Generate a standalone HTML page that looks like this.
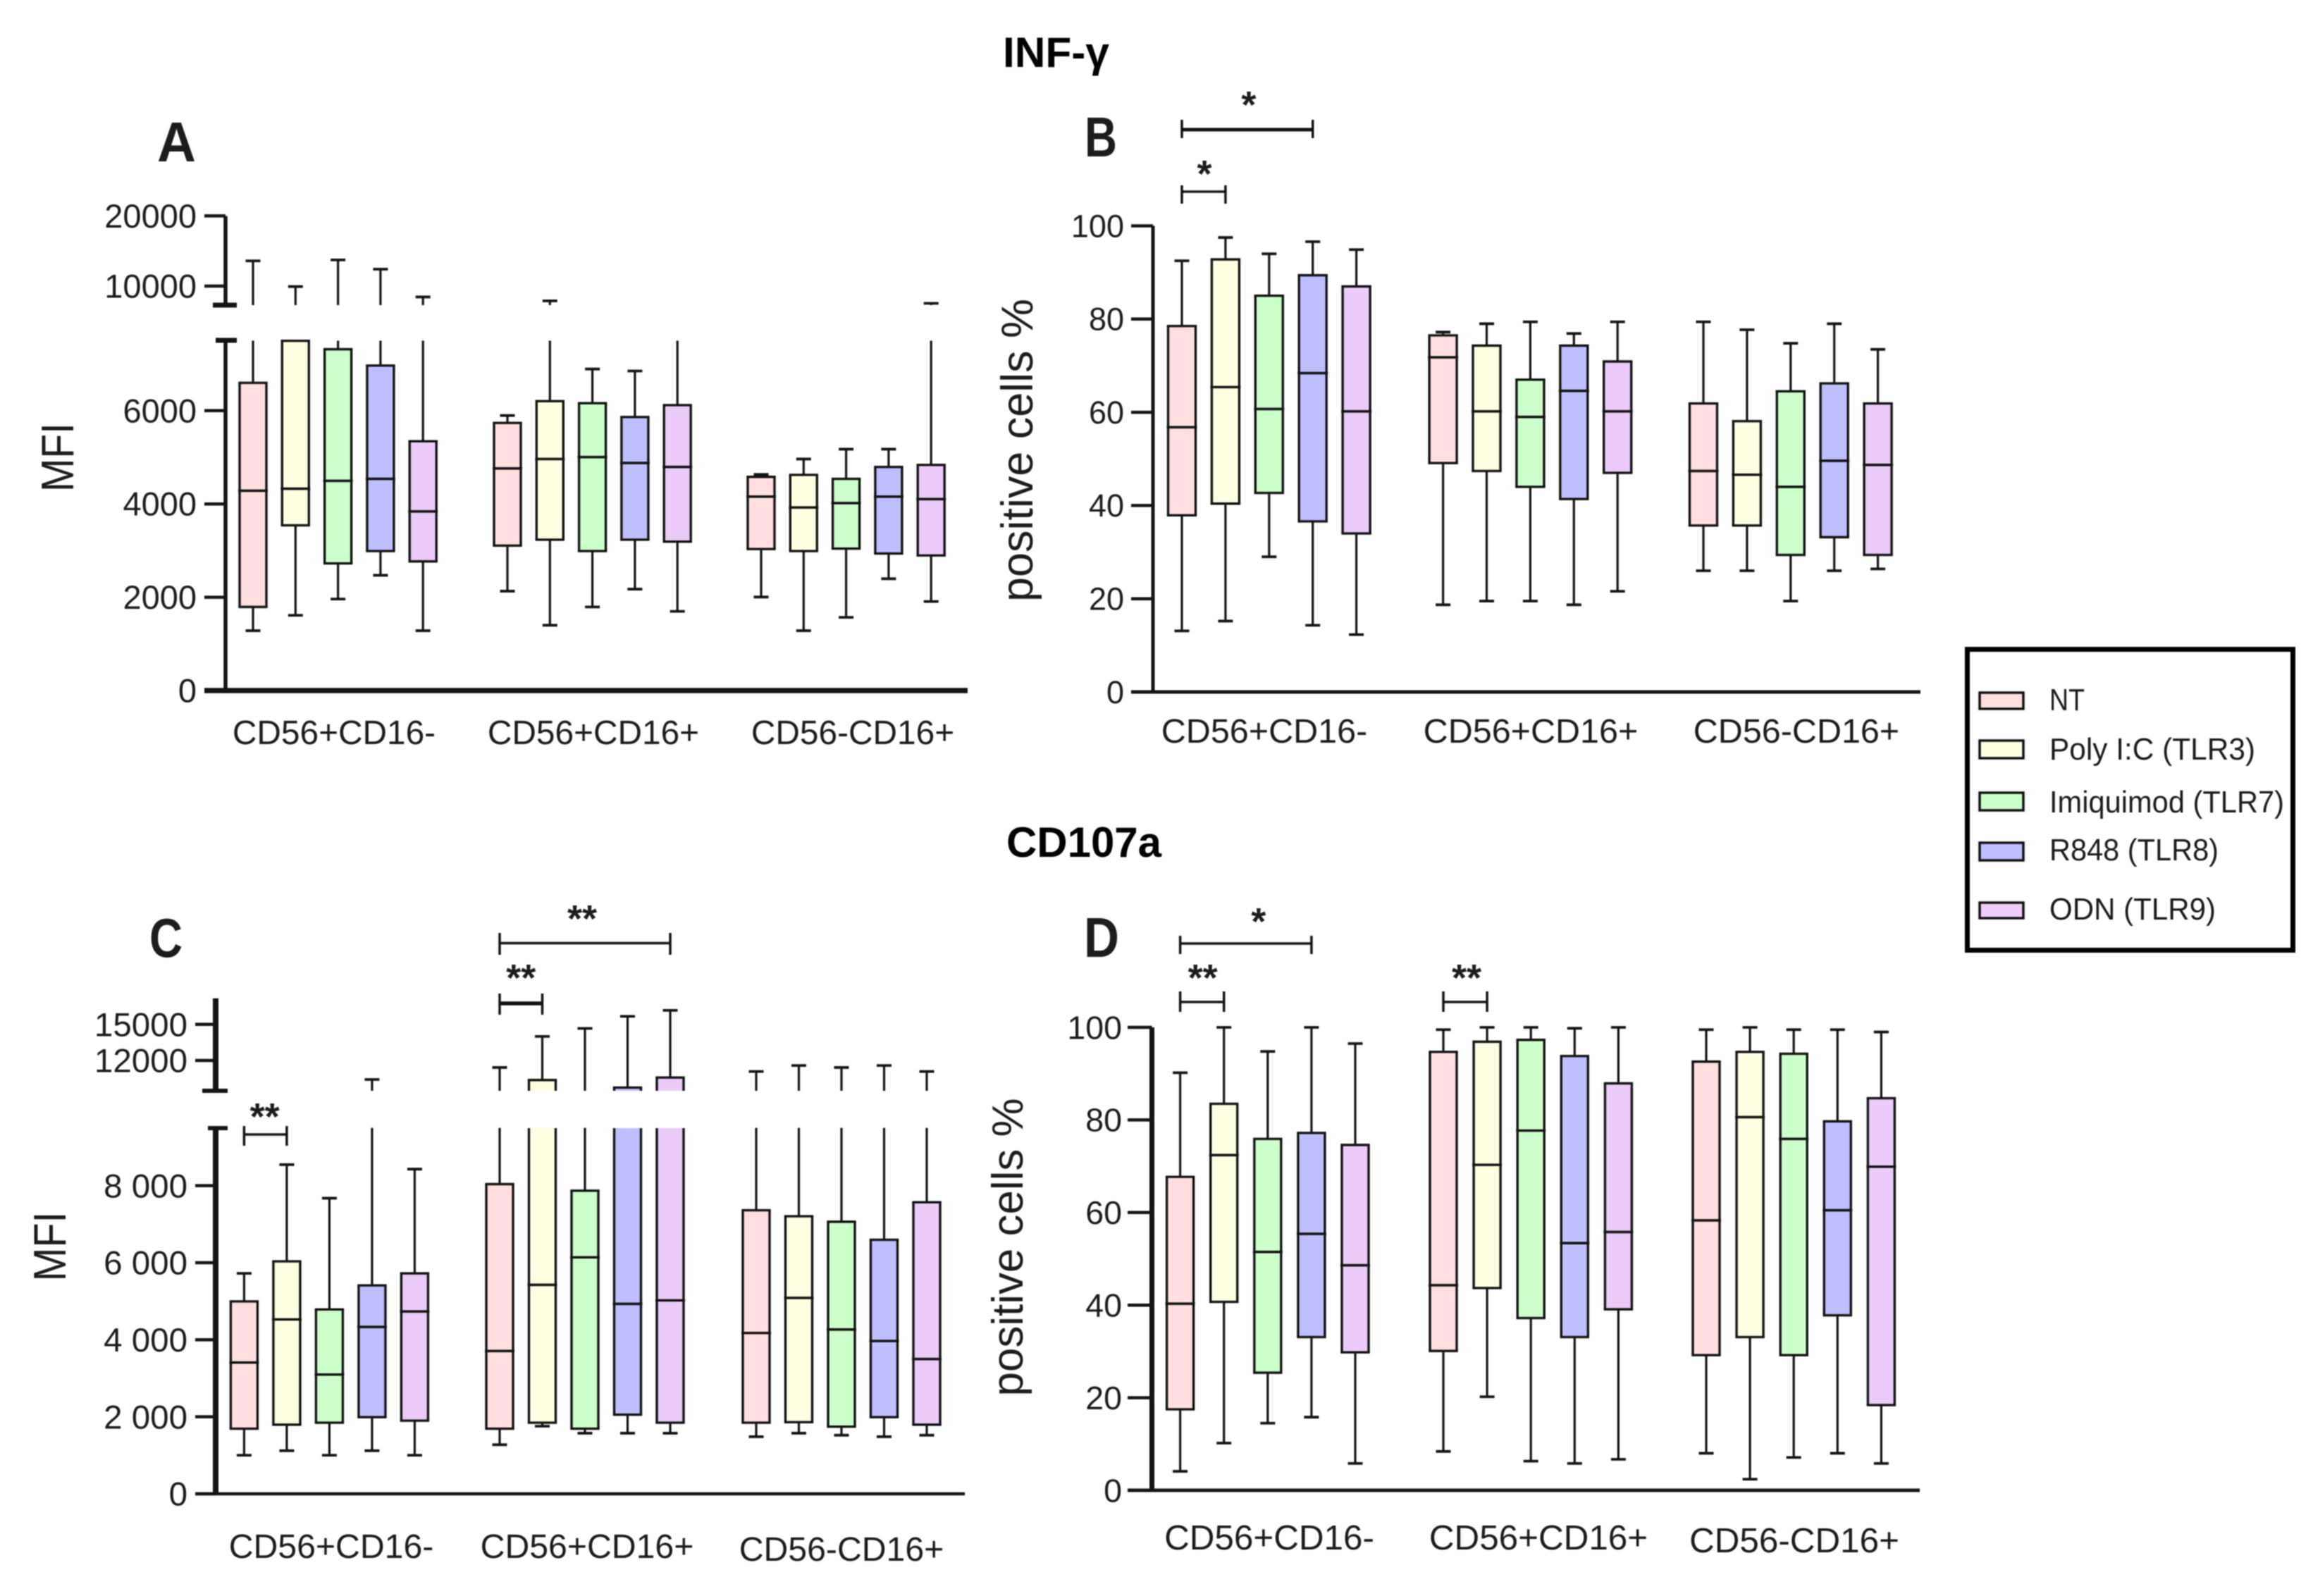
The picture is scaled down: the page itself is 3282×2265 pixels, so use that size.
<!DOCTYPE html>
<html lang="en">
<head>
<meta charset="utf-8">
<title>INF-γ and CD107a box plots</title>
<style>
html,body{margin:0;padding:0;background:#fff;width:3282px;height:2265px;overflow:hidden}
svg{display:block;filter:blur(0.8px)}
text{font-family:"Liberation Sans",sans-serif;fill:#1c1c1c}
</style>
</head>
<body>
<svg id="figure" xmlns="http://www.w3.org/2000/svg" width="3282" height="2265" viewBox="0 0 3282 2265">
  <rect x="0" y="0" width="3282" height="2265" fill="#fff"/>
  <text x="1423" y="95" font-size="60" font-weight="700" textLength="151" lengthAdjust="spacingAndGlyphs" style="fill:#000">INF-γ</text>
  <text x="1428" y="1216" font-size="60" font-weight="700" textLength="220" lengthAdjust="spacingAndGlyphs" style="fill:#000">CD107a</text>
  <g id="panels"></g>
  <g>
    <rect x="2791.5" y="921.5" width="462" height="427" fill="#fff" stroke="#000" stroke-width="7"/>
    <g>
      <rect x="2809" y="983" width="62" height="23" fill="#ffdfe0" stroke="#111" stroke-width="3.5"/>
      <text x="2908" y="1008" font-size="44" textLength="50" lengthAdjust="spacingAndGlyphs">NT</text>
    </g>
    <g>
      <rect x="2809" y="1051" width="62" height="25" fill="#ffffe3" stroke="#111" stroke-width="3.5"/>
      <text x="2908" y="1078" font-size="44" textLength="292" lengthAdjust="spacingAndGlyphs">Poly I:C (TLR3)</text>
    </g>
    <g>
      <rect x="2809" y="1125" width="62" height="25" fill="#ccffcc" stroke="#111" stroke-width="3.5"/>
      <text x="2908" y="1153" font-size="44" textLength="333" lengthAdjust="spacingAndGlyphs">Imiquimod (TLR7)</text>
    </g>
    <g>
      <rect x="2809" y="1196" width="62" height="25" fill="#bfbfff" stroke="#111" stroke-width="3.5"/>
      <text x="2908" y="1221" font-size="44" textLength="240" lengthAdjust="spacingAndGlyphs">R848 (TLR8)</text>
    </g>
    <g>
      <rect x="2809" y="1281" width="62" height="22" fill="#f0ccf8" stroke="#111" stroke-width="3.5"/>
      <text x="2908" y="1305" font-size="44" textLength="236" lengthAdjust="spacingAndGlyphs">ODN (TLR9)</text>
    </g>
  </g>
</svg>
<script>
const categories = ['CD56+CD16-', 'CD56+CD16+', 'CD56-CD16+'];
const treatments = ['NT', 'Poly I:C', 'Imiquimod', 'R848', 'ODN'];

// Panel A: MFI, INF-γ (15 boxes: 5 treatments in each of 3 populations)
const aLow    = [1283,1612,1962,2471,1283, 2131,1400,1792,2174,1697, 2004,1283,1569,2397,1909];
const aQ1     = [1792,3542,2725,2990,2768, 3107,3234,2990,3234,3192, 3033,2990,3043,2937,2895];
const aMedian = [4284,4327,4496,4539,3839, 4761,4963,5005,4878,4793, 4157,3924,4019,4157,4104];
const aQ3     = [6596,7497,7317,6967,5345, 5737,6204,6161,5864,6119, 4581,4624,4539,4793,4836];
const aHigh   = [13590,9930,13730,12410,8450, 5896,7890,6893,6851,7505, 4634,4963,5175,5175,7540];
const aLowerTicks = [0,2000,4000,6000];
const aLowerTickLabels = ['0','2000','4000','6000'];
const aUpperTicks = [10000,20000];
const aUpperTickLabels = ['10000','20000'];

// Panel B: positive cells %, INF-γ
const bLow    = [13.1,15.2,29,14.3,12.3, 18.7,19.5,19.5,18.7,21.6, 26,26,19.5,26,26.4];
const bQ1     = [37.9,40.4,42.7,36.6,34, 49.1,47.4,44,41.4,47, 35.7,35.7,29.4,33.2,29.4];
const bMedian = [56.8,65.4,60.7,68.4,60.2, 71.8,60.2,59,64.6,60.2, 47.4,46.6,44,49.6,48.7];
const bQ3     = [78.5,92.8,85,89.4,87, 76.5,74.3,67,74.3,70.9, 61.9,58.1,64.5,66.2,61.9];
const bHigh   = [92.5,97.5,94,96.6,94.9, 77.2,79,79.4,76.9,79.4, 79.4,77.7,74.8,79,73.5];
const bTicks = [0,20,40,60,80,100];
const bTickLabels = ['0','20','40','60','80','100'];
const bBracketFrom = [0,0];
const bBracketTo = [3,1];
const bBracketStars = ['*','*'];

// Panel C: MFI, CD107a
const cLow    = [1002,1119,1002,1119,1002, 1275,1756,1574,1574,1574, 1483,1574,1522,1483,1522];
const cQ1     = [1691,1795,1847,1990,1899, 1691,1847,1691,2055,1847, 1847,1860,1743,1990,1795];
const cMedian = [3408,4527,3096,4331,4735, 3707,5424,6139,4930,5021, 4175,5086,4266,3967,3499];
const cQ3     = [4995,6035,4787,5411,5723, 8039,10375,7869,9750,10583, 7362,7206,7063,6595,7570];
const cHigh   = [5723,8546,7674,10417,8429, 11417,14000,14667,15667,16167, 11083,11583,11417,11583,11083];
const cLowerTicks = [0,2000,4000,6000,8000];
const cLowerTickLabels = ['0','2 000','4 000','6 000','8 000'];
const cUpperTicks = [12000,15000];
const cUpperTickLabels = ['12000','15000'];
const cBracketFrom = [0,5,5];
const cBracketTo = [1,9,6];
const cBracketStars = ['**','**','**'];

// Panel D: positive cells %, CD107a
const dLow    = [4.1,10.2,14.5,15.8,5.8, 8.4,20.2,6.3,5.8,6.7, 8,2.4,7.1,8,5.8];
const dQ1     = [17.5,40.7,25.4,33.1,29.8, 30.1,43.7,37.2,33.1,39.1, 29.2,33.1,29.2,37.8,18.4];
const dMedian = [40.3,72.4,51.5,55.4,48.6, 44.3,70.3,77.7,53.4,55.8, 58.3,80.6,75.9,60.5,69.9];
const dQ3     = [67.7,83.5,75.9,77.2,74.6, 94.7,96.9,97.3,93.8,87.9, 92.6,94.7,94.3,79.7,84.7];
const dHigh   = [90.2,100,94.8,100,96.5, 99.5,100,100,99.8,100, 99.5,100,99.5,99.5,99];
const dTicks = [0,20,40,60,80,100];
const dTickLabels = ['0','20','40','60','80','100'];
const dBracketFrom = [0,0,5];
const dBracketTo = [3,1,6];
const dBracketStars = ['*','**','**'];

// Styling and layout, separate from the data above
const treatmentFills = ['#ffdfe0','#ffffe3','#ccffcc','#bfbfff','#ebccf8'];
const INK = '#141414';

const layoutA = {
  id:'a', axisX:320, axisWidth:5.5, xAxisWidth:7.5, xStart:290, xEnd:1373, y0:980, pxPerUnit:0.0662,
  lowTop:7500, upStart:7510, lowTopPx:483, upBottomPx:433, upRefV:10000, upRefPx:406, upPxPerUnit:0.00996, upTopPx:306.6,
  capFrom:306, capTo:336, upCapFrom:302, capWidth:7,
  groupX:[359,720,1080], step:60.3, boxW:38, capW:21,
  tickLeft:290, labelRight:279, tickFont:47, catFont:47.8,
  catX:[474,842,1210], catY:[1056,1056,1056],
  title:'MFI', titleX:104, titleY:649, titleFont:65, titleLen:98,
  letter:'A', letterX:223, letterY:229, letterFont:80, letterW:55
};
const layoutB = {
  id:'b', axisX:1636, axisWidth:5, xAxisWidth:5, xStart:1605, xEnd:2725, y0:982, pxPerUnit:6.615,
  groupX:[1677,2047.6,2417], step:61.9, boxW:39, capW:21,
  tickLeft:1605, labelRight:1595, tickFont:45, catFont:48.5,
  catX:[1794,2172,2549], catY:[1054,1054,1054],
  title:'positive cells %', titleX:1465, titleY:639, titleFont:63, titleLen:430,
  letter:'B', letterX:1539, letterY:222, letterFont:80, letterW:46,
  bracketY:[184,272], bracketTop:[170,263], bracketBottom:[196,289], bracketW:[5,3.5], starY:[144,242], starDx:[2,1]
};
const layoutC = {
  id:'c', axisX:306, axisWidth:8, xAxisWidth:4.5, xStart:277, xEnd:1369, y0:2120, pxPerUnit:0.05467,
  lowTop:9500, upStart:9500, lowTopPx:1601, upBottomPx:1548, upRefV:12000, upRefPx:1505, upPxPerUnit:0.01707, upTopPx:1416.7,
  capFrom:295, capTo:323, upCapFrom:287, capWidth:6,
  groupX:[346.4,709,1073], step:60.5, boxW:38, capW:21,
  tickLeft:277, labelRight:266, tickFont:47.5, catFont:48.2,
  catX:[470,833,1194], catY:[2211,2211,2215],
  title:'MFI', titleX:93, titleY:1769, titleFont:65, titleLen:99,
  letter:'C', letterX:212, letterY:1358, letterFont:78, letterW:47,
  bracketY:[1610,1338.5,1424], bracketTop:[1598,1324,1410], bracketBottom:[1626,1355,1440], bracketW:[3.5,3.5,5.5], starY:[1580,1299,1383], starDx:[-1,-4,0]
};
const layoutD = {
  id:'d', axisX:1634.5, axisWidth:7, xAxisWidth:5, xStart:1600, xEnd:2724, y0:2115, pxPerUnit:6.57,
  groupX:[1674.6,2048,2421], step:62.1, boxW:38, capW:21,
  tickLeft:1600, labelRight:1592, tickFont:46.5, catFont:49.4,
  catX:[1801,2183,2546], catY:[2199,2199,2203],
  title:'positive cells %', titleX:1451, titleY:1770, titleFont:62, titleLen:423,
  letter:'D', letterX:1538, letterY:1358, letterFont:80, letterW:50,
  bracketY:[1339,1422,1422], bracketTop:[1328,1407,1407], bracketBottom:[1354,1436,1436], bracketW:[3.5,3.5,3.5], starY:[1303,1383,1383], starDx:[18,1,2]
};

const SVG_NS = 'http://www.w3.org/2000/svg';
const panelsRoot = document.getElementById('panels');

function addGroup(parent, name) {
  const el = document.createElementNS(SVG_NS, 'g');
  
  
  parent.appendChild(el);
  return el;
}
function addLine(parent, name, x1, y1, x2, y2, width) {
  const el = document.createElementNS(SVG_NS, 'line');
  
  
  el.setAttribute('x1', x1);
  el.setAttribute('y1', y1);
  el.setAttribute('x2', x2);
  el.setAttribute('y2', y2);
  el.setAttribute('stroke', INK);
  el.setAttribute('stroke-width', width);
  parent.appendChild(el);
  return el;
}
function addFill(parent, name, x, top, w, bottom, fill) {
  const el = document.createElementNS(SVG_NS, 'rect');
  
  
  el.setAttribute('x', x);
  el.setAttribute('y', top);
  el.setAttribute('width', w);
  el.setAttribute('height', Math.max(0, bottom - top));
  el.setAttribute('fill', fill);
  parent.appendChild(el);
  return el;
}
function addText(parent, name, str, x, y, size, anchor, weight) {
  const el = document.createElementNS(SVG_NS, 'text');
  
  
  el.setAttribute('x', x);
  el.setAttribute('y', y);
  el.setAttribute('font-size', size);
  el.setAttribute('text-anchor', anchor);
  if (weight) el.setAttribute('font-weight', weight);
  el.textContent = str;
  parent.appendChild(el);
  return el;
}

function yLower(L, v) { return L.y0 - v * L.pxPerUnit; }
function yUpper(L, v) { return L.upRefPx + (L.upRefV - v) * L.upPxPerUnit; }
function hasBreak(L) { return L.lowTop !== undefined; }
function xOf(L, idx) {
  const g = Math.floor(idx / treatments.length);
  return L.groupX[g] + L.step * (idx % treatments.length);
}

function drawSegment(parent, name, L, x, a, b) {
  if (!hasBreak(L)) { addLine(parent, name, x, yLower(L, a), x, yLower(L, b), 3.2); return; }
  if (a < L.lowTop) addLine(parent, name, x, yLower(L, a), x, yLower(L, Math.min(b, L.lowTop)), 3.2);
  if (b > L.upStart) {
    const from = a <= L.upStart ? L.upBottomPx : yUpper(L, a);
    addLine(parent, name + '-upper', x, from, x, yUpper(L, b), 3.2);
  }
}
function capY(L, v) {
  if (!hasBreak(L)) return yLower(L, v);
  if (v < L.lowTop) return yLower(L, v);
  if (v > L.upStart) return yUpper(L, v);
  return null;
}

function drawBox(parent, L, idx, low, q1, med, q3, high, fill) {
  const g = Math.floor(idx / treatments.length);
  const t = idx % treatments.length;
  const tag = treatments[t].toLowerCase().replace(/[^a-z0-9]+/g, '-');
  const box = addGroup(parent, 'box-' + L.id + '-group' + (g + 1) + '-' + tag);
  const x = xOf(L, idx);
  const hw = L.boxW / 2;

  drawSegment(box, 'whisker-low', L, x, low, q1);
  drawSegment(box, 'whisker-high', L, x, q3, high);
  const lowCap = capY(L, low);
  if (lowCap !== null) addLine(box, 'cap-low', x - L.capW / 2, lowCap, x + L.capW / 2, lowCap, 3.8);
  const highCap = capY(L, high);
  if (highCap !== null) addLine(box, 'cap-high', x - L.capW / 2, highCap, x + L.capW / 2, highCap, 3.8);

  const broken = hasBreak(L) && q3 > L.lowTop;
  const top = broken ? L.lowTopPx : yLower(L, q3);
  const bottom = yLower(L, q1);
  addFill(box, 'box-fill', x - hw, top, L.boxW, bottom, fill);
  addLine(box, 'box-left', x - hw, top, x - hw, bottom, 3.4);
  addLine(box, 'box-right', x + hw, top, x + hw, bottom, 3.4);
  addLine(box, 'box-bottom', x - hw - 1.7, bottom, x + hw + 1.7, bottom, 3.4);
  if (!broken) addLine(box, 'box-top', x - hw - 1.7, top, x + hw + 1.7, top, 3.4);
  if (broken) {
    const upTop = yUpper(L, q3);
    addFill(box, 'box-fill-upper', x - hw, upTop, L.boxW, L.upBottomPx, fill);
    addLine(box, 'box-left-upper', x - hw, upTop, x - hw, L.upBottomPx, 3.4);
    addLine(box, 'box-right-upper', x + hw, upTop, x + hw, L.upBottomPx, 3.4);
    addLine(box, 'box-top-upper', x - hw - 1.7, upTop, x + hw + 1.7, upTop, 3.4);
  }
  const my = yLower(L, med);
  addLine(box, 'median', x - hw - 2, my, x + hw + 2, my, 3.6);
}

function drawPanel(L, low, q1, med, q3, high, lowerTicks, lowerLabels, upperTicks, upperLabels, brFrom, brTo, brStars) {
  const panel = addGroup(panelsRoot, 'panel-' + L.id);
  const letter = addText(panel, 'panel-letter', L.letter, L.letterX, L.letterY, L.letterFont, 'start', '700');
  letter.setAttribute('textLength', L.letterW);
  letter.setAttribute('lengthAdjust', 'spacingAndGlyphs');

  const title = addText(panel, 'y-axis-title', L.title, L.titleX, L.titleY, L.titleFont, 'middle');
  title.setAttribute('textLength', L.titleLen);
  title.setAttribute('lengthAdjust', 'spacingAndGlyphs');
  title.setAttribute('transform', 'rotate(-90 ' + L.titleX + ' ' + L.titleY + ')');

  const boxes = addGroup(panel, 'boxes');
  low.forEach(function (v, i) {
    drawBox(boxes, L, i, v, q1[i], med[i], q3[i], high[i], treatmentFills[i % treatmentFills.length]);
  });

  const axis = addGroup(panel, 'y-axis');
  const lowerTopPx = hasBreak(L) ? L.lowTopPx : yLower(L, lowerTicks[lowerTicks.length - 1]);
  addLine(axis, 'y-axis-line', L.axisX, L.y0, L.axisX, lowerTopPx, L.axisWidth);
  lowerTicks.forEach(function (v, i) {
    const y = yLower(L, v);
    addLine(axis, 'y-tick', L.tickLeft, y, L.axisX, y, 4.5);
    addText(axis, 'y-tick-label', lowerLabels[i], L.labelRight, y + L.tickFont * 0.35, L.tickFont, 'end');
  });
  if (hasBreak(L)) {
    addLine(axis, 'y-axis-line-upper', L.axisX, L.upBottomPx, L.axisX, L.upTopPx, L.axisWidth);
    addLine(axis, 'axis-break-lower-cap', L.capFrom, L.lowTopPx, L.capTo, L.lowTopPx, L.capWidth);
    addLine(axis, 'axis-break-upper-cap', L.upCapFrom, L.upBottomPx, L.capTo, L.upBottomPx, L.capWidth);
    upperTicks.forEach(function (v, i) {
      const y = yUpper(L, v);
      addLine(axis, 'y-tick', L.tickLeft, y, L.axisX, y, 4.5);
      addText(axis, 'y-tick-label', upperLabels[i], L.labelRight, y + L.tickFont * 0.35, L.tickFont, 'end');
    });
  }

  const xAxis = addGroup(panel, 'x-axis');
  addLine(xAxis, 'x-axis-line', L.xStart, L.y0, L.xEnd, L.y0, L.xAxisWidth);
  categories.forEach(function (c, i) {
    addText(xAxis, 'x-category-label', c, L.catX[i], L.catY[i], L.catFont, 'middle');
  });

  if (brFrom) {
    const sig = addGroup(panel, 'significance-brackets');
    brFrom.forEach(function (f, i) {
      const x1 = xOf(L, f);
      const x2 = xOf(L, brTo[i]);
      addLine(sig, 'bracket-bar', x1, L.bracketY[i], x2, L.bracketY[i], L.bracketW[i]);
      addLine(sig, 'bracket-end-left', x1, L.bracketTop[i], x1, L.bracketBottom[i], 3.5);
      addLine(sig, 'bracket-end-right', x2, L.bracketTop[i], x2, L.bracketBottom[i], 3.5);
      addText(sig, 'significance-stars', brStars[i], (x1 + x2) / 2 + L.starDx[i], L.starY[i] + 23, 54, 'middle', '700');
    });
  }
}

drawPanel(layoutA, aLow, aQ1, aMedian, aQ3, aHigh, aLowerTicks, aLowerTickLabels, aUpperTicks, aUpperTickLabels);
drawPanel(layoutB, bLow, bQ1, bMedian, bQ3, bHigh, bTicks, bTickLabels, null, null, bBracketFrom, bBracketTo, bBracketStars);
drawPanel(layoutC, cLow, cQ1, cMedian, cQ3, cHigh, cLowerTicks, cLowerTickLabels, cUpperTicks, cUpperTickLabels, cBracketFrom, cBracketTo, cBracketStars);
drawPanel(layoutD, dLow, dQ1, dMedian, dQ3, dHigh, dTicks, dTickLabels, null, null, dBracketFrom, dBracketTo, dBracketStars);
</script>
</body>
</html>
